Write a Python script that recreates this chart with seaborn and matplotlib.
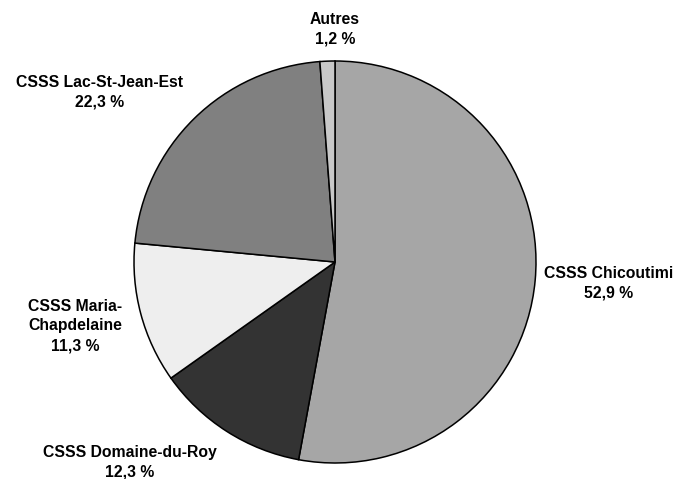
import matplotlib
matplotlib.use("Agg")
import matplotlib.pyplot as plt
import seaborn as sns

# Data
categories = ["CSSS Chicoutimi", "CSSS Domaine-du-Roy", "CSSS Maria-\nChapdelaine",
              "CSSS Lac-St-Jean-Est", "Autres"]
values = [52.9, 12.3, 11.3, 22.3, 1.2]
value_labels = ["52,9 %", "12,3 %", "11,3 %", "22,3 %", "1,2 %"]

# Styling / layout
colors = ["#a6a6a6", "#333333", "#eeeeee", "#808080", "#c8c8c8"]
label_pos = [(1.363, -0.104), (-1.020, -0.995), (-1.294, -0.318),
             (-1.169, 0.846), (0.0, 1.159)]

sns.set_theme(style="white")
plt.rcParams['font.family'] = ['Liberation Sans', 'DejaVu Sans']

fig = plt.figure(figsize=(6.75, 4.79), dpi=100)
ax = fig.add_axes([0, 0, 1, 1])
ax.pie(values, colors=colors, startangle=90, counterclock=False,
       radius=1.0, center=(0, 0),
       wedgeprops=dict(edgecolor="black", linewidth=1.1))
ax.set_xlim(-335 / 201, (675 - 335) / 201)
ax.set_ylim(-(479 - 262) / 201, 262 / 201)
ax.set_aspect("auto")
ax.axis("off")

for cat, vl, (x, y) in zip(categories, value_labels, label_pos):
    ax.text(x, y, f"{cat}\n{vl}", ha="center", va="center", fontsize=11.3,
            fontweight="bold", linespacing=1.4, color="black")

fig.savefig("out.png", dpi=100, facecolor="white")
